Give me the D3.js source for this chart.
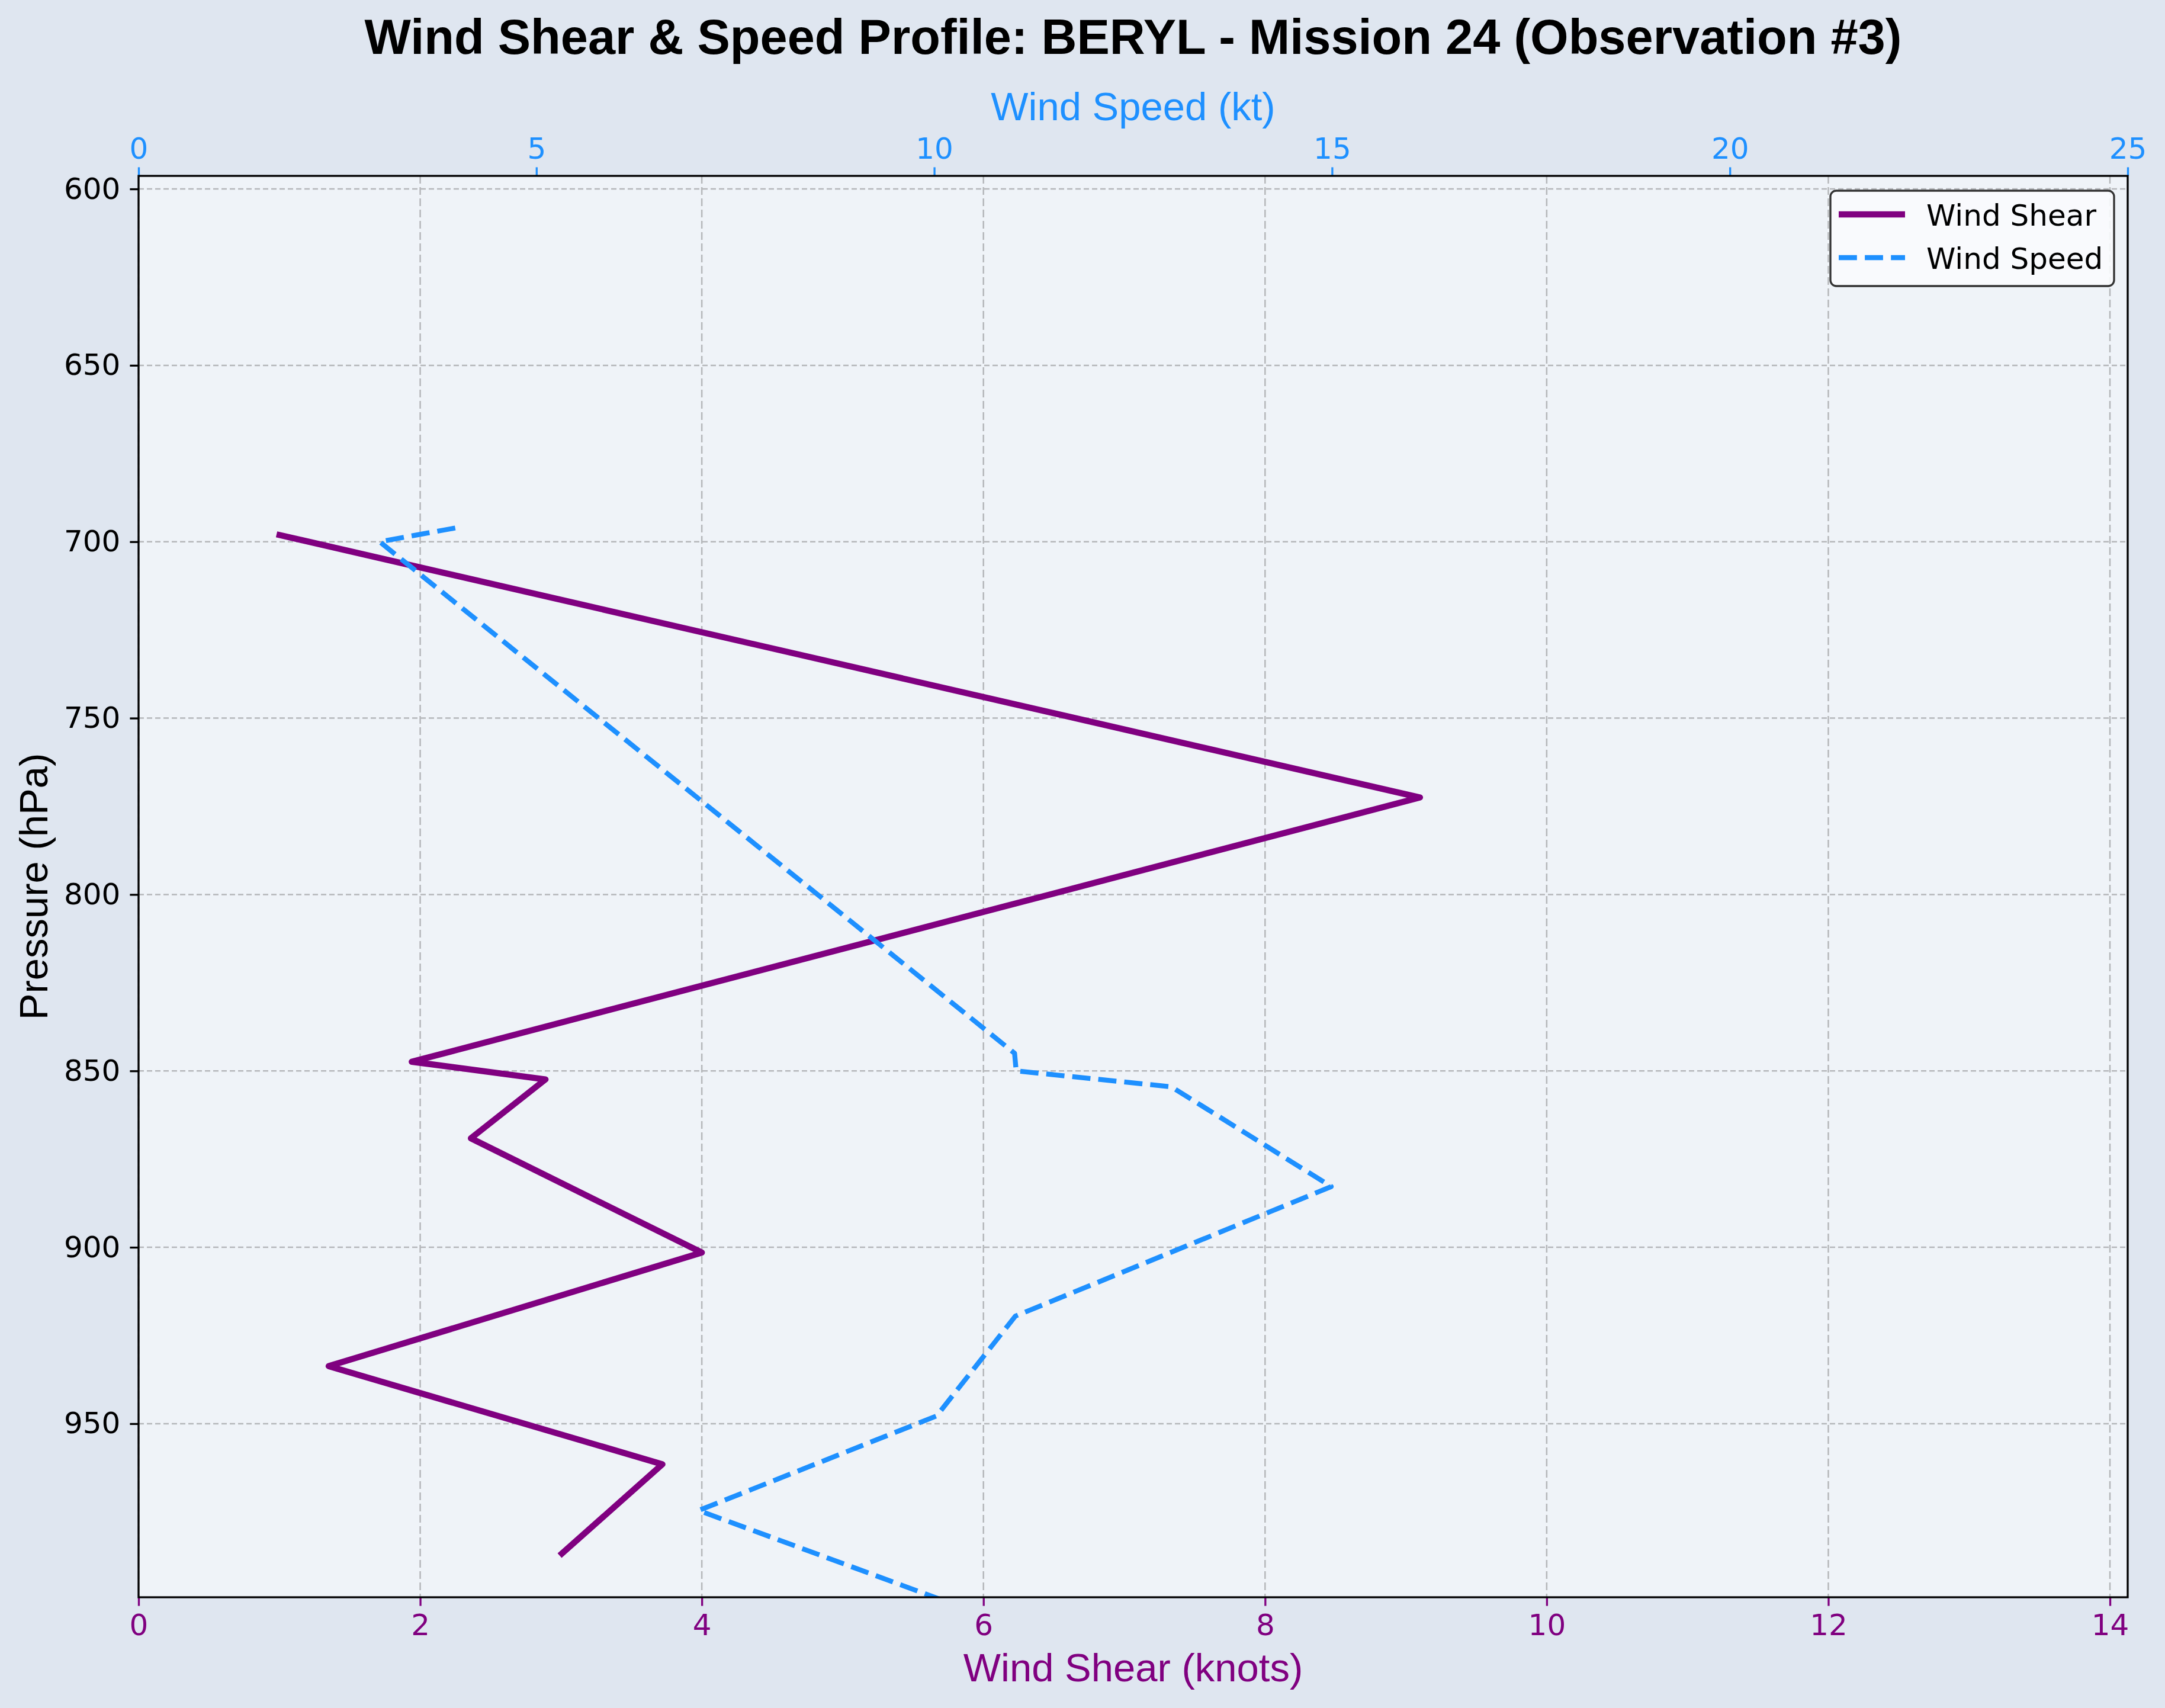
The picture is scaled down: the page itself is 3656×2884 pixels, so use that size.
<!DOCTYPE html>
<html>
<head>
<meta charset="utf-8">
<script src="https://cdn.jsdelivr.net/npm/d3@7"></script>
<style>
  html, body { margin: 0; padding: 0; background: #dfe6f0; }
  svg { display: block; }
</style>
</head>
<body>
<div id="chart"></div>
<script>
// values
const shearPressure = [697.9, 772.5, 847.4, 852.4, 869.1, 901.5, 933.7, 961.5, 987.4];
const shearValues = [0.98, 9.10, 1.94, 2.89, 2.36, 4.00, 1.35, 3.72, 2.99];

const speedPressure = [696.1, 700.0, 845.0, 850.0, 854.5, 882.8, 919.5, 947.8, 974.6, 1000.0];
const speedValues = [3.98, 3.03, 11.01, 11.03, 12.98, 14.99, 11.02, 10.03, 7.04, 10.1];

const shearTicks = [0, 2, 4, 6, 8, 10, 12, 14];
const speedTicks = [0, 5, 10, 15, 20, 25];
const pressureTicks = [600, 650, 700, 750, 800, 850, 900, 950];

const titleText = "Wind Shear & Speed Profile: BERYL - Mission 24 (Observation #3)";

const width = 3656, height = 2884;
const margin = { top: 297, right: 63, bottom: 187, left: 234 };
const innerW = width - margin.left - margin.right;
const innerH = height - margin.top - margin.bottom;

const PURPLE = "#800080";
const BLUE = "#1e90ff";
const tickFont = "'DejaVu Sans', sans-serif";
const labelFont = "'Liberation Sans', Arial, sans-serif";

const svg = d3.select("#chart").append("svg")
  .attr("width", width)
  .attr("height", height)
  .attr("viewBox", [0, 0, width, height]);

svg.append("rect").attr("width", width).attr("height", height).attr("fill", "#dfe6f0");

const g = svg.append("g").attr("transform", `translate(${margin.left},${margin.top})`);

const x = d3.scaleLinear().domain([0, 14.126]).range([0, innerW]);
const x2 = d3.scaleLinear().domain([0, 25]).range([0, innerW]);
const y = d3.scaleLinear().domain([596.3, 999.2]).range([0, innerH]);

g.append("rect").attr("width", innerW).attr("height", innerH).attr("fill", "#eff3f8");

// grid
const grid = g.append("g");
grid.selectAll(".gx").data(shearTicks).join("line")
  .attr("x1", d => x(d)).attr("x2", d => x(d))
  .attr("y1", 0).attr("y2", innerH)
  .attr("stroke", "#b5b7ba").attr("stroke-width", 2.5)
  .attr("stroke-dasharray", "13,6");
grid.selectAll(".gy").data(pressureTicks).join("line")
  .attr("x1", 0).attr("x2", innerW)
  .attr("y1", d => y(d)).attr("y2", d => y(d))
  .attr("stroke", "#b5b7ba").attr("stroke-width", 2.5)
  .attr("stroke-dasharray", "9,5");

// clip
svg.append("defs").append("clipPath").attr("id", "clip")
  .append("rect").attr("width", innerW).attr("height", innerH);

const plot = g.append("g").attr("clip-path", "url(#clip)");

const shearLine = d3.line()
  .x((d, i) => x(shearValues[i]))
  .y((d, i) => y(shearPressure[i]));
const speedLine = d3.line()
  .x((d, i) => x2(speedValues[i]))
  .y((d, i) => y(speedPressure[i]));

plot.append("path")
  .datum(shearValues)
  .attr("d", shearLine)
  .attr("fill", "none")
  .attr("stroke", PURPLE)
  .attr("stroke-width", 10.4)
  .attr("stroke-linejoin", "round");

plot.append("path")
  .datum(speedValues)
  .attr("d", speedLine)
  .attr("fill", "none")
  .attr("stroke", BLUE)
  .attr("stroke-width", 8.3)
  .attr("stroke-dasharray", "30.8,13.3")
  .attr("stroke-linejoin", "round");

// axes
const axBottom = g.append("g")
  .attr("transform", `translate(0,${innerH})`)
  .call(d3.axisBottom(x).tickValues(shearTicks).tickFormat(d3.format("d")).tickSize(14.6).tickPadding(14));
axBottom.select(".domain").remove();
axBottom.selectAll(".tick line").attr("stroke", PURPLE).attr("stroke-width", 3.3);
axBottom.selectAll(".tick text").attr("fill", PURPLE).style("font", `50px ${tickFont}`);

const axTop = g.append("g")
  .call(d3.axisTop(x2).tickValues(speedTicks).tickFormat(d3.format("d")).tickSize(14.6).tickPadding(14));
axTop.select(".domain").remove();
axTop.selectAll(".tick line").attr("stroke", BLUE).attr("stroke-width", 3.3);
axTop.selectAll(".tick text").attr("fill", BLUE).style("font", `50px ${tickFont}`);

const axLeft = g.append("g")
  .call(d3.axisLeft(y).tickValues(pressureTicks).tickFormat(d3.format("d")).tickSize(14.6).tickPadding(16));
axLeft.select(".domain").remove();
axLeft.selectAll(".tick line").attr("stroke", "#000").attr("stroke-width", 3.3);
axLeft.selectAll(".tick text").attr("fill", "#000").style("font", `50px ${tickFont}`);

// frame
g.append("rect").attr("width", innerW).attr("height", innerH)
  .attr("fill", "none").attr("stroke", "#000").attr("stroke-width", 3.3);

// labels
svg.append("text")
  .attr("x", margin.left + innerW / 2).attr("y", 91)
  .attr("text-anchor", "middle")
  .style("font", `bold 83px ${labelFont}`)
  .attr("fill", "#000")
  .text(titleText);

svg.append("text")
  .attr("x", margin.left + innerW / 2).attr("y", 203)
  .attr("text-anchor", "middle")
  .style("font", `67px ${labelFont}`)
  .attr("fill", BLUE)
  .text("Wind Speed (kt)");

svg.append("text")
  .attr("x", margin.left + innerW / 2).attr("y", 2839)
  .attr("text-anchor", "middle")
  .style("font", `67px ${labelFont}`)
  .attr("fill", PURPLE)
  .text("Wind Shear (knots)");

svg.append("text")
  .attr("transform", `translate(80,${margin.top + innerH / 2}) rotate(-90)`)
  .attr("text-anchor", "middle")
  .style("font", `67px ${labelFont}`)
  .attr("fill", "#000")
  .text("Pressure (hPa)");

// legend
const legend = svg.append("g").attr("transform", "translate(3091,322)");
legend.append("rect")
  .attr("width", 479).attr("height", 161)
  .attr("rx", 10).attr("ry", 10)
  .attr("fill", "#fafbfd").attr("fill-opacity", 0.9)
  .attr("stroke", "#333").attr("stroke-width", 3.3);

const legendItems = [
  { label: "Wind Shear", color: PURPLE, width: 10.4, dash: null },
  { label: "Wind Speed", color: BLUE, width: 8.3, dash: "30.8,13.3" }
];
legendItems.forEach((it, i) => {
  const yy = 40 + i * 73;
  legend.append("line")
    .attr("x1", 14).attr("x2", 126).attr("y1", yy).attr("y2", yy)
    .attr("stroke", it.color).attr("stroke-width", it.width)
    .attr("stroke-dasharray", it.dash);
  legend.append("text")
    .attr("x", 162).attr("y", yy + 19)
    .style("font", `50px ${tickFont}`)
    .attr("fill", "#000")
    .text(it.label);
});
</script>
</body>
</html>
